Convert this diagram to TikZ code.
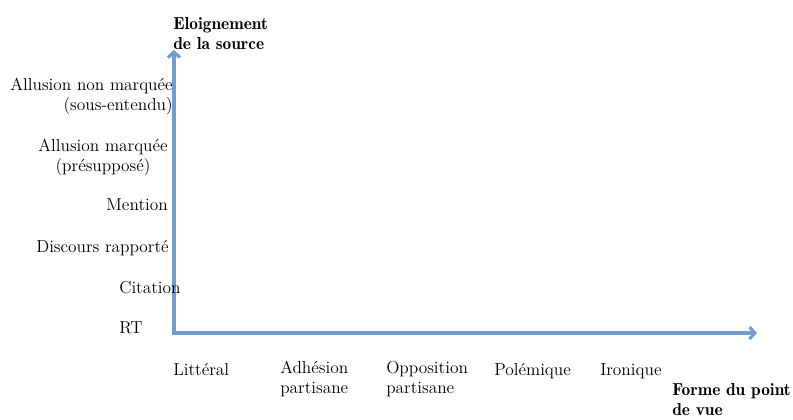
\documentclass[tikz,border=0pt]{standalone}
\usetikzlibrary{arrows.meta}
\definecolor{axisblue}{RGB}{112,158,208}

\begin{document}
\begin{tikzpicture}[x=0.75pt, y=-0.75pt,
    axe/.style={draw=axisblue, line width=2.4pt, {Straight Barb[length=4pt,width=9pt]}-{Straight Barb[length=4pt,width=9pt]}},
    lab/.style={font=\fontsize{13}{15}\selectfont, inner sep=0pt},
    titre/.style={lab, font=\fontsize{13}{15}\fontseries{b}\selectfont, align=left}]
    \useasboundingbox (0,0) rectangle (793,419);
    % axes
    \coordinate (O) at (174,333);
    \coordinate (ytip) at (174,50);
    \coordinate (xtip) at (757,333);
    \draw[axe] (ytip) -- (O) -- (xtip);
    \node[titre, anchor=south west] (eloign) at (173,50) {Eloignement\\de la source};
    % niveaux
    \node[lab, align=right, anchor=east] (nonmarq) at (173,96) {Allusion non marquée\\(sous-entendu)};
    \node[lab, align=center, anchor=east] (marq) at (168,157) {Allusion marquée\\(présupposé)};
    \node[lab, anchor=base east] (mention) at (168,210) {Mention};
    \node[lab, anchor=base east] (discours) at (169,252) {Discours rapporté};
    \node[lab, anchor=base west] (citation) at (119,293) {Citation};
    \node[lab, anchor=base west] (rt) at (119,333) {RT};
    % formes
    \node[lab, anchor=base west] (litteral) at (173,375) {Littéral};
    \node[lab, align=left, anchor=north west] (adhesion) at (280,361) {Adhésion\\partisane};
    \node[lab, align=left, anchor=north west] (opposition) at (386,361) {Opposition\\partisane};
    \node[lab, anchor=base west] (polemique) at (494,375) {Polémique};
    \node[lab, anchor=base west] (ironique) at (600,375) {Ironique};
    \node[titre, anchor=north west] (forme) at (672,383) {Forme du point\\de vue};
\end{tikzpicture}
\end{document}
